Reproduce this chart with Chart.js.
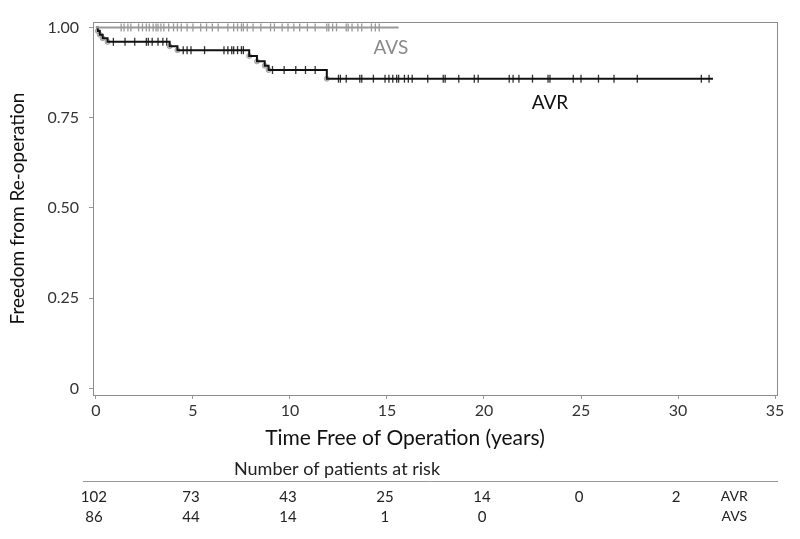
<!DOCTYPE html>
<html>
<head>
<meta charset="utf-8">
<script src="https://cdn.jsdelivr.net/npm/chart.js@4"></script>
<style>
    html, body { margin: 0; padding: 0; background: #fff; }
    #wrap { width: 800px; height: 539px; position: relative; }
</style>
</head>
<body>
<div id="wrap"><canvas id="kmChart"></canvas></div>
<script>
// Kaplan-Meier step data (years, survival)
const avrTimes = [0, 0.1, 0.2, 0.35, 0.6, 3.8, 4.2, 7.9, 8.3, 8.7, 8.9, 11.9, 31.8];
const avrSurv = [1.0, 0.99, 0.98, 0.97, 0.96, 0.948, 0.937, 0.921, 0.906, 0.894, 0.882, 0.858, 0.858];
const avsTimes = [0, 15.6];
const avsSurv = [1.0, 1.0];

// censored observations (years)
const avrCensor = [0.9, 1.5, 2.0, 2.6, 2.7, 2.9, 3.2, 3.45, 3.65, 4.5, 4.7, 4.9, 5.6, 6.6, 6.8, 7.0, 7.1, 7.3, 7.5, 7.6,
    9.1, 9.7, 10.3, 10.8, 11.3, 12.5, 12.6, 12.9, 13.6, 13.7, 14.3, 14.9, 15.1, 15.3, 15.5, 15.6, 15.9, 16.1, 16.3,
    17.1, 17.9, 18.0, 18.7, 19.5, 19.7, 21.3, 21.5, 21.8, 22.5, 23.3, 23.4, 24.6, 25.0, 25.9, 26.7, 27.9, 31.2, 31.6];
const avsCensor = [1.3, 1.45, 1.65, 1.8, 2.2, 2.4, 2.6, 2.75, 2.95, 3.1, 3.2, 3.35, 3.5, 3.75, 4.0, 4.2, 4.4, 4.7,
    5.0, 5.4, 5.7, 6.0, 6.3, 6.8, 7.1, 7.3, 7.5, 7.6, 7.8, 8.1, 8.5, 9.0, 9.2, 9.6, 9.9, 10.2, 10.5, 10.9,
    11.3, 11.9, 12.0, 12.2, 12.4, 12.9, 13.0, 13.2, 13.5, 13.7, 14.2, 14.4, 14.6];

// axis ticks
const xTicks = [0, 5, 10, 15, 20, 25, 30, 35];
const yTicks = [0, 0.25, 0.5, 0.75, 1.0];

// patients at risk table
const riskTimes = [0, 5, 10, 15, 20, 25, 30];
const avrRisk = [102, 73, 43, 25, 14, 0, 2];
const avsRisk = [86, 44, 14, 1, 0];

const FONT = 'Lato, "Open Sans", sans-serif';

function stepValue(times, surv, t) {
    let v = surv[0];
    for (let i = 0; i < times.length; i++) {
        if (times[i] <= t) v = surv[i];
    }
    return v;
}

function toPoints(xs, ys) {
    return xs.map((x, i) => ({ x: x, y: ys[i] }));
}

const censorPoints = (times, surv, cens) => cens.map(t => ({ x: t, y: stepValue(times, surv, t) }));

// frame, curve labels, x title and risk table
const extrasPlugin = {
    id: 'extras',
    afterDraw(chart) {
        const ctx = chart.ctx;
        const area = chart.chartArea;
        const xs = chart.scales.x;
        const ys = chart.scales.y;
        ctx.save();
        ctx.strokeStyle = '#8c8c8c';
        ctx.lineWidth = 1;
        ctx.strokeRect(area.left + 0.5, area.top + 0.5, area.right - area.left, area.bottom - area.top);

        ctx.font = '19px ' + FONT;
        ctx.textAlign = 'center';
        ctx.textBaseline = 'middle';
        ctx.fillStyle = '#8a8a8a';
        ctx.fillText('AVS', xs.getPixelForValue(15.2), ys.getPixelForValue(0.944));
        ctx.fillStyle = '#111';
        ctx.fillText('AVR', xs.getPixelForValue(23.4), ys.getPixelForValue(0.79));

        ctx.font = '21px ' + FONT;
        ctx.fillText('Time Free of Operation (years)', 405, 438);

        // risk table
        ctx.fillStyle = '#222';
        ctx.font = '18px ' + FONT;
        ctx.fillText('Number of patients at risk', 337, 469);
        ctx.strokeStyle = '#999';
        ctx.beginPath();
        ctx.moveTo(83, 481.5);
        ctx.lineTo(778, 481.5);
        ctx.stroke();

        ctx.font = '15px ' + FONT;
        ctx.fillStyle = '#222';
        riskTimes.forEach((t, i) => {
            ctx.fillText(String(avrRisk[i]), xs.getPixelForValue(t) - 2, 497);
        });
        avsRisk.forEach((n, i) => {
            ctx.fillText(String(n), xs.getPixelForValue(riskTimes[i]) - 2, 517);
        });
        ctx.font = '14px ' + FONT;
        ctx.fillText('AVR', xs.getPixelForValue(32.9), 496);
        ctx.fillText('AVS', xs.getPixelForValue(32.9), 516);
        ctx.restore();
    }
};

const ctx = document.getElementById('kmChart').getContext('2d');
new Chart(ctx, {
    type: 'line',
    data: {
        datasets: [
            {
                label: 'AVS',
                data: toPoints(avsTimes, avsSurv),
                stepped: true,
                borderColor: '#9a9a9a',
                borderWidth: 2,
                pointRadius: 0
            },
            {
                label: 'AVS censored',
                data: censorPoints(avsTimes, avsSurv, avsCensor),
                showLine: false,
                pointStyle: 'line',
                rotation: 90,
                pointRadius: 4,
                borderColor: '#9a9a9a',
                borderWidth: 1.3
            },
            {
                label: 'AVR',
                data: toPoints(avrTimes, avrSurv),
                stepped: true,
                borderColor: '#111',
                borderWidth: 2,
                pointRadius: 0
            },
            {
                label: 'AVR events',
                data: toPoints(avrTimes.slice(1, -1), avrSurv.slice(1, -1)),
                showLine: false,
                pointStyle: 'circle',
                pointRadius: 2.5,
                backgroundColor: 'rgba(170,170,170,0.6)',
                borderColor: '#a0a0a0',
                borderWidth: 1
            },
            {
                label: 'AVR censored',
                data: censorPoints(avrTimes, avrSurv, avrCensor),
                showLine: false,
                pointStyle: 'line',
                rotation: 90,
                pointRadius: 4,
                borderColor: '#333',
                borderWidth: 1.3
            }
        ]
    },
    options: {
        responsive: true,
        maintainAspectRatio: false,
        animation: false,
        layout: { padding: { left: 0, top: 22, right: 23, bottom: 90 } },
        plugins: {
            legend: { display: false },
            tooltip: { enabled: false }
        },
        scales: {
            x: {
                type: 'linear',
                min: -0.15,
                max: 35.1,
                afterBuildTicks: s => { s.ticks = xTicks.map(v => ({ value: v })); },
                afterFit: s => { s.height = 54; },
                grid: { drawOnChartArea: false, tickLength: 4, color: '#999' },
                border: { color: '#8c8c8c' },
                ticks: { color: '#333', font: { family: FONT, size: 16 }, padding: 2, maxRotation: 0 },
                title: { display: false }
            },
            y: {
                type: 'linear',
                min: -0.018,
                max: 1.015,
                afterBuildTicks: s => { s.ticks = yTicks.map(v => ({ value: v })); },
                afterFit: s => { s.width = 93; },
                grid: { drawOnChartArea: false, tickLength: 4, color: '#999' },
                border: { color: '#8c8c8c' },
                ticks: {
                    color: '#333',
                    font: { family: FONT, size: 16 },
                    padding: 10,
                    callback: v => (v === 0 ? '0' : v.toFixed(2))
                },
                title: {
                    display: true,
                    text: 'Freedom from Re-operation',
                    color: '#111',
                    font: { family: FONT, size: 19 },
                    padding: { top: 6, bottom: 0 }
                }
            }
        }
    },
    plugins: [extrasPlugin]
});
</script>
</body>
</html>
